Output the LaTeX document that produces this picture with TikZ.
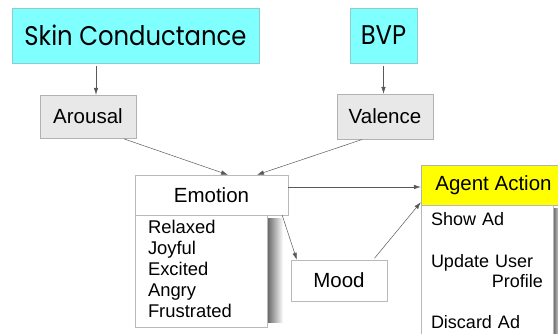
\documentclass[tikz,border=0pt]{standalone}
\usepackage{fontspec}
\setmainfont{Liberation Sans}
\newfontfamily\geofont[FakeStretch=0.9]{Poppins}
\usetikzlibrary{positioning,arrows.meta,calc,backgrounds}
\definecolor{sensorcyan}{RGB}{128,255,255}
\definecolor{sensorline}{RGB}{140,205,210}
\definecolor{actyellow}{RGB}{255,255,0}

\begin{document}
\begin{tikzpicture}[x=1pt, y=-1pt, >={Latex[length=7pt,width=4.5pt]},
  every node/.style={font=\fontsize{20.5}{24}\selectfont, align=center, inner sep=0pt},
  sensor/.style={draw=sensorline, fill=sensorcyan, minimum height=55pt,
    font=\geofont\fontsize{27}{30}\selectfont},
  feature/.style={draw=gray!60, fill=gray!18, minimum width=96pt},
  state/.style={draw=gray!55, fill=white},
  listbox/.style={draw=gray!55, fill=white, align=left, anchor=north west},
  link/.style={->, draw=black!65, line width=0.5pt}]
  \useasboundingbox (0,0) rectangle (558,334);
  % sensors
  \node[sensor, minimum width=247pt] (skin) at (135.5,35.5) {Skin Conductance};
  \node[sensor, minimum width=67pt] (bvp) at (383.5,35.5) {BVP};
  % features
  \node[feature, minimum height=43pt] (arousal) at (88,116.5) {Arousal};
  \node[feature, minimum height=45pt] (valence) at (385,116.5) {Valence};
  % emotion and its list
  \node[state, minimum width=153pt, minimum height=40pt] (emotion) at (211.5,195) {Emotion};
  \node[listbox, inner xsep=13pt, text width=106pt, minimum height=112pt,
        font=\fontsize{18.4}{21}\selectfont] (emolist) at (emotion.south west)
      {Relaxed\\Joyful\\Excited\\Angry\\Frustrated\rule[-4.6pt]{0pt}{0pt}};
  \node[state, minimum width=96pt, minimum height=41pt] (mood) at (339,280.5) {Mood};
  % agent action and its list
  \node[draw=black!30, fill=actyellow, minimum width=145pt, minimum height=40pt]
      (agent) at (493.5,185) {Agent Action};
  \node[listbox, inner xsep=10pt, text width=112pt, minimum height=131pt,
        font=\fontsize{18}{20.6}\selectfont] (actlist) at (agent.south west)
      {Show Ad\\[20.6pt]Update User\\\hfill Profile\\[20.6pt]Discard Ad};
  % shadows
  \begin{scope}[on background layer]
    \shade[left color=black!60, right color=white]
      ([yshift=-3pt]emolist.north east) rectangle ([xshift=16pt,yshift=5pt]emolist.south east);
    \shade[left color=black!60, right color=white]
      ([yshift=-3pt]actlist.north east) rectangle ([xshift=8pt]actlist.south east);
  \end{scope}
  % arrows
  \draw[link, shorten <=3pt] ([xshift=8pt]arousal.north |- skin.south) -- ([xshift=8pt]arousal.north);
  \draw[link, shorten <=3pt] (bvp.south) -- (bvp.south |- valence.north);
  \draw[link, shorten <=2pt] ([xshift=34pt]arousal.south) -- ([xshift=16.5pt]emotion.north);
  \draw[link, shorten <=1pt] ([xshift=-22pt]valence.south) -- ([xshift=45.5pt]emotion.north);
  \draw[link] ([xshift=-6pt]emotion.south east) -- ([xshift=6pt]mood.north west);
  \draw[link] ([yshift=8pt]emotion.east) -- ([yshift=8pt]emotion.east -| agent.west);
  \draw[link, shorten <=2pt] ([xshift=-14pt]mood.north east) -- ([yshift=3pt]agent.south west);
\end{tikzpicture}
\end{document}
